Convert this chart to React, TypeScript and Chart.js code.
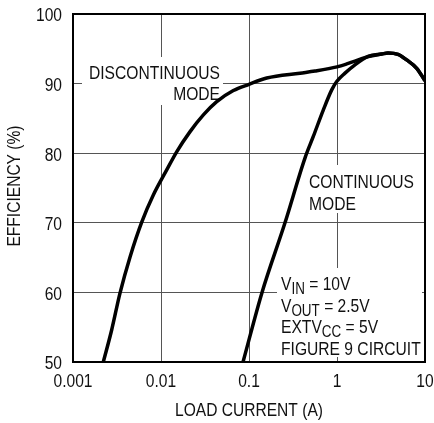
import React, { useEffect, useRef } from "react";
import { Chart, registerables } from "chart.js";

Chart.register(...registerables);

// Load current (A) and efficiency (%)
const discCurrent = [0.00221, 0.00275, 0.00342, 0.00445, 0.00604, 0.00818, 0.01161, 0.01507, 0.0214, 0.0303, 0.043, 0.0664, 0.1, 0.159, 0.38, 0.562, 1, 1.343, 1.746, 2.27, 3.22, 3.8, 4.93, 6.19, 8.05, 10];
const discEff = [50, 54.6, 59.9, 65.1, 70.1, 74.0, 77.6, 80.2, 83.1, 85.5, 87.4, 89.0, 89.9, 90.8, 91.5, 91.8, 92.4, 92.9, 93.4, 93.9, 94.25, 94.4, 94.2, 93.4, 92.2, 90.4];

const contCurrent = [0.0855, 0.1406, 0.2564, 0.4325, 0.538, 0.698, 0.871, 0.993, 1.233, 1.6, 2.27, 3.22, 3.8, 4.93, 6.19, 8.05, 10];
const contEff = [50, 60, 70, 79.3, 82.4, 86.2, 89.1, 90.3, 91.5, 92.7, 93.9, 94.25, 94.4, 94.2, 93.4, 92.2, 90.4];

const xTickValues = [0.001, 0.01, 0.1, 1, 10];
const xTickLabels = ["0.001", "0.01", "0.1", "1", "10"];
const yTickValues = [50, 60, 70, 80, 90, 100];
const yTickLabels = ["50", "60", "70", "80", "90", "100"];
const yMin = 50;
const yMax = 100;

const xTitle = "LOAD CURRENT (A)";
const yTitle = "EFFICIENCY (%)";

const FONT = "'Liberation Sans', Arial, Helvetica, sans-serif";
const TEXT = "#111";

function drawText(
  ctx: CanvasRenderingContext2D,
  text: string,
  x: number,
  y: number,
  align: "left" | "right" | "center",
  size: number,
  sx: number
) {
  ctx.font = `${size}px ${FONT}`;
  const w = ctx.measureText(text).width * sx;
  const left = align === "left" ? x : align === "right" ? x - w : x - w / 2;
  ctx.save();
  ctx.translate(left, y);
  ctx.scale(sx, 1);
  ctx.textAlign = "left";
  ctx.textBaseline = "alphabetic";
  ctx.fillText(text, 0, 0);
  ctx.restore();
  return w;
}

type Seg = { t: string; sub?: boolean };

const annotationPlugin = {
  id: "annotations",
  beforeDatasetsDraw(chart: any) {
    const ctx = chart.ctx as CanvasRenderingContext2D;
    ctx.save();
    ctx.fillStyle = "#ffffff";
    // gaps in the grid behind the labels
    ctx.fillRect(82, 57, 141, 48);
    ctx.fillRect(305, 165, 112, 48);
    ctx.fillRect(277, 268, 145, 89);

    ctx.fillStyle = TEXT;
    const S = 18.6;
    const SX = 0.84;
    drawText(ctx, "DISCONTINUOUS", 220, 79, "right", S, SX);
    drawText(ctx, "MODE", 220, 100, "right", S, SX);
    drawText(ctx, "CONTINUOUS", 309, 188, "left", S, SX);
    drawText(ctx, "MODE", 309, 210, "left", S, SX);

    const lines: Seg[][] = [
      [{ t: "V" }, { t: "IN", sub: true }, { t: " = 10V" }],
      [{ t: "V" }, { t: "OUT", sub: true }, { t: " = 2.5V" }],
      [{ t: "EXTV" }, { t: "CC", sub: true }, { t: " = 5V" }],
      [{ t: "FIGURE 9 CIRCUIT" }],
    ];
    const baselines = [290, 311.7, 333.3, 355];
    lines.forEach((segs, i) => {
      let x = 281;
      segs.forEach((s) => {
        x += drawText(ctx, s.t, x, baselines[i] + (s.sub ? 4 : 0), "left", s.sub ? 16 : S, SX);
      });
    });
    ctx.restore();
  },
  afterDatasetsDraw(chart: any) {
    const ctx = chart.ctx as CanvasRenderingContext2D;
    const a = chart.chartArea;
    ctx.save();
    ctx.strokeStyle = "#000";
    ctx.lineWidth = 2;
    ctx.strokeRect(a.left, a.top, a.right - a.left, a.bottom - a.top);

    // tick labels placed through the chart's own scales
    ctx.fillStyle = TEXT;
    const xs = chart.scales.x;
    const ys = chart.scales.y;
    xTickValues.forEach((v, i) => {
      drawText(ctx, xTickLabels[i], xs.getPixelForValue(v), a.bottom + 25, "center", 17.6, 0.886);
    });
    yTickValues.forEach((v, i) => {
      drawText(ctx, yTickLabels[i], a.left - 11, ys.getPixelForValue(v) + 7.3, "right", 17.6, 0.886);
    });

    // axis titles
    drawText(ctx, xTitle, (a.left + a.right) / 2, 416, "center", 18.2, 0.856);
    ctx.save();
    ctx.translate(20, 186);
    ctx.rotate(-Math.PI / 2);
    drawText(ctx, yTitle, 0, 0, "center", 18.2, 0.856);
    ctx.restore();
    ctx.restore();
  },
};

export default function App() {
  const ref = useRef<HTMLCanvasElement>(null);
  useEffect(() => {
    document.body.style.margin = "0";
    const canvas = ref.current!;
    const chart = new Chart(canvas, {
      type: "line",
      data: {
        datasets: [
          {
            label: "Discontinuous mode",
            data: discCurrent.map((x, i) => ({ x, y: discEff[i] })),
            borderColor: "#000",
            borderWidth: 3.5,
            pointRadius: 0,
            cubicInterpolationMode: "monotone",
            fill: false,
          },
          {
            label: "Continuous mode",
            data: contCurrent.map((x, i) => ({ x, y: contEff[i] })),
            borderColor: "#000",
            borderWidth: 3.5,
            pointRadius: 0,
            cubicInterpolationMode: "monotone",
            fill: false,
          },
        ],
      },
      options: {
        animation: false,
        responsive: false,
        layout: { padding: { top: 14, right: 9, left: 0, bottom: 0 } },
        plugins: { legend: { display: false }, tooltip: { enabled: false } },
        scales: {
          x: {
            type: "logarithmic",
            min: 0.001,
            max: 10,
            afterBuildTicks: (scale: any) => {
              scale.ticks = xTickValues.map((v) => ({ value: v }));
            },
            afterFit: (scale: any) => {
              scale.height = 61;
            },
            ticks: { display: false, autoSkip: false },
            grid: { color: "#555", lineWidth: 1, drawTicks: false },
            border: { display: false },
          },
          y: {
            min: yMin,
            max: yMax,
            afterBuildTicks: (scale: any) => {
              scale.ticks = yTickValues.map((v) => ({ value: v }));
            },
            afterFit: (scale: any) => {
              scale.width = 73;
            },
            ticks: { display: false },
            grid: { color: "#555", lineWidth: 1, drawTicks: false },
            border: { display: false },
          },
        },
      },
      plugins: [annotationPlugin],
    } as any);
    return () => chart.destroy();
  }, []);
  return <canvas ref={ref} width={434} height={423} style={{ display: "block" }} />;
}
